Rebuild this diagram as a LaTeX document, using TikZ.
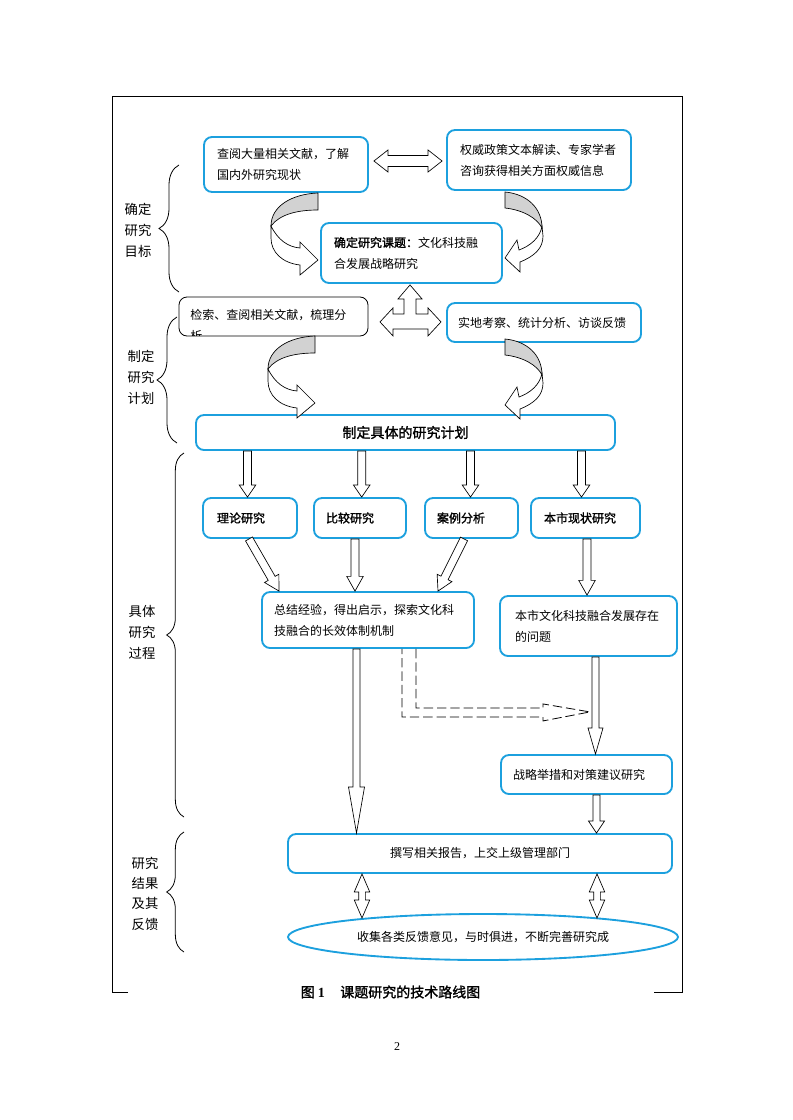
\documentclass[tikz,border=0pt]{standalone}
\usepackage{fontspec}
\setmainfont{Noto Sans CJK SC}[AutoFakeBold=1.5]
\newfontfamily\serifdig{Liberation Serif}
\usetikzlibrary{calc,shapes.geometric,decorations.pathreplacing}
\definecolor{cb}{RGB}{28,160,222}
\tikzset{
  cbox/.style={draw=cb, line width=1.4pt, rounded corners=6pt, fill=white, inner sep=0pt,
    font=\fontsize{9}{15.75}\selectfont, align=left},
  kbox/.style={draw=black, line width=0.6pt, rounded corners=6pt, fill=white, inner sep=0pt},
  barr/.style={draw=black, line width=0.5pt, fill=white, line join=miter},
  curvg/.style={draw=black, line width=0.5pt, fill=gray!35},
  curvw/.style={draw=black, line width=0.5pt, fill=white},
  lab/.style={font=\fontsize{10}{15.75}\selectfont, align=center, inner sep=0pt},
  brc/.style={decorate, line width=0.6pt},
  tx/.style={font=\fontsize{9}{9}\selectfont, inner sep=0pt},
}
% single block arrow: from #1 to #2, shaft half-width #3, head half-width #4, head length #5
\newcommand\barrow[5]{%
  \coordinate (tmpH) at ($(#2)!#5!(#1)$);
  \draw[barr] ($(#1)!#3!90:(#2)$) -- ($(tmpH)!#3!90:(#2)$) -- ($(tmpH)!#4!90:(#2)$) -- (#2)
    -- ($(tmpH)!#4!-90:(#2)$) -- ($(tmpH)!#3!-90:(#2)$) -- ($(#1)!#3!-90:(#2)$) -- cycle;}
% double block arrow
\newcommand\dbarrow[5]{%
  \coordinate (tmpA) at ($(#1)!#5!(#2)$);
  \coordinate (tmpB) at ($(#2)!#5!(#1)$);
  \draw[barr] (#1) -- ($(tmpA)!#4!90:(#2)$) -- ($(tmpA)!#3!90:(#2)$) -- ($(tmpB)!#3!90:(#2)$)
    -- ($(tmpB)!#4!90:(#2)$) -- (#2) -- ($(tmpB)!#4!-90:(#2)$) -- ($(tmpB)!#3!-90:(#2)$)
    -- ($(tmpA)!#3!-90:(#2)$) -- ($(tmpA)!#4!-90:(#2)$) -- cycle;}
\newcommand\curvL{%
  \draw[curvg] (318,193) .. controls (292,194) and (271,206) .. (271,226)
     .. controls (280,214) and (298,210) .. (318,210) -- cycle;
  \draw[curvw] (271,226) .. controls (278,240) and (288,247) .. (300,248) -- (300,242) -- (318,260)
     -- (300,275) -- (300,265) .. controls (282,263) and (271,252) .. (271,238) -- cycle;}
\newcommand\curvR{%
  \draw[curvg] (505,192) .. controls (527,194) and (542,208) .. (542,228)
     .. controls (537,218) and (523,210) .. (505,208) -- cycle;
  \draw[curvw] (542,226) .. controls (540,238) and (530,246) .. (519,250) -- (517,240) -- (505,258)
     -- (520,272) -- (520,262) .. controls (535,256) and (543,248) .. (543,236) -- cycle;}
\begin{document}
\begin{tikzpicture}[x=0.75pt,y=-0.75pt]
\useasboundingbox (0,0) rectangle (792,1120);
% frame
\draw[line width=0.6pt] (128,992) -- (112,992) -- (112,96) -- (682,96) -- (682,992) -- (654,992);
% left labels and braces
\node[lab] (l1) at (138,230.5) {确定\\研究\\目标};
\node[lab] (l2) at (141,377.5) {制定\\研究\\计划};
\node[lab] (l3) at (142,632.5) {具体\\研究\\过程};
\node[lab, font=\fontsize{10}{15.25}\selectfont] (l4) at (145,893.5) {研究\\结果\\及其\\反馈};
\draw[brc, decoration={brace, amplitude=15pt}] (179,292) -- (179,165);
\draw[brc, decoration={brace, amplitude=15pt}] (177,443) -- (177,317);
\draw[brc, decoration={brace, amplitude=13pt}] (184,817) -- (184,453);
\draw[brc, decoration={brace, amplitude=13pt}] (184,952) -- (184,832);
% boxes
\node[cbox, minimum width=123pt, minimum height=41.25pt, text width=103.5pt] (b1) at (286,164.5)
  {查阅大量相关文献，了解\\国内外研究现状};
\node[cbox, minimum width=138pt, minimum height=45pt, text width=118.5pt] (b2) at (539,160)
  {权威政策文本解读、专家学者\\咨询获得相关方面权威信息};
\node[cbox, minimum width=135.75pt, minimum height=45pt, text width=116.25pt] (b3) at (411.5,253)
  {{\bfseries 确定研究课题：}文化科技融\\合发展战略研究};
\node[kbox, minimum width=141.75pt, minimum height=29.25pt] (b4) at (273.5,316.5) {};
\begin{scope}
  \clip[rounded corners=6pt] ($(b4.south west)+(1,-1)$) rectangle ($(b4.north east)+(-1,1)$);
  \node[tx, anchor=base west] (b4t1) at (190,319.5) {检索、查阅相关文献，梳理分};
  \node[tx, anchor=base west] (b4t2) at (190,340.5) {析};
\end{scope}
\node[cbox, minimum width=145.5pt, minimum height=29.25pt, text width=129pt] (b5) at (544,322.5)
  {实地考察、统计分析、访谈反馈};
\node[cbox, minimum width=314.25pt, minimum height=26.25pt, align=center,
  font=\fontsize{10.5}{12}\selectfont\bfseries] (b6) at (405.5,432.5) {制定具体的研究计划};
\node[cbox, minimum width=70.5pt, minimum height=30pt, text width=49.5pt, font=\fontsize{9}{9}\selectfont\bfseries] (b7) at (250,518) {理论研究};
\node[cbox, minimum width=69pt, minimum height=30pt, text width=51pt, font=\fontsize{9}{9}\selectfont\bfseries] (b8) at (360,518) {比较研究};
\node[cbox, minimum width=69.75pt, minimum height=30pt, text width=51.75pt, font=\fontsize{9}{9}\selectfont\bfseries] (b9) at (471.5,518) {案例分析};
\node[cbox, minimum width=81.75pt, minimum height=30pt, text width=62.25pt, font=\fontsize{9}{9}\selectfont\bfseries] (b10) at (585.5,518) {本市现状研究};
\node[cbox, minimum width=159pt, minimum height=42pt, text width=141pt] (b11) at (368,620)
  {总结经验，得出启示，探索文化科\\技融合的长效体制机制};
\node[cbox, minimum width=132.75pt, minimum height=45pt, text width=110.25pt] (b12) at (588.5,626)
  {本市文化科技融合发展存在\\的问题};
\node[cbox, minimum width=128.25pt, minimum height=29.25pt, text width=110.25pt] (b13) at (586.5,774.5)
  {战略举措和对策建议研究};
\node[cbox, minimum width=288pt, minimum height=29.25pt, align=center] (b14) at (480,853.5)
  {撰写相关报告，上交上级管理部门};
\node[ellipse, draw=cb, line width=1.4pt, fill=white, minimum width=292.5pt, minimum height=34.5pt,
  inner sep=0pt, font=\fontsize{9}{9}\selectfont] (el) at (483,937)
  {收集各类反馈意见，与时俱进，不断完善研究成};
% caption & page number
\node[font=\fontsize{10.5}{12}\selectfont\bfseries, inner sep=0pt] (cap) at (390.5,992)
  {图 {\serifdig 1}\hspace{1.1em}课题研究的技术路线图};
\node[font=\serifdig\fontsize{9}{9}\selectfont, inner sep=0pt] (pg) at (397,1047) {2};
% horizontal double arrow between b1 and b2
\coordinate (h1s) at ($(b1.east)+(5,-3.5)$);
\coordinate (h1e) at ($(b2.west)+(-4,1)$);
\dbarrow{h1s}{h1e}{4.1pt}{8.25pt}{10.5pt}
% curved arrows
\curvR
\curvL
\begin{scope}[shift={(-3,143)}] \curvL \end{scope}
\begin{scope}[shift={(0,147)}] \curvR \end{scope}
% three-way arrow
\coordinate (tw) at ($(b3.south)+(-1.5,1)$);
\draw[barr, shift={(tw)}] (0,0) -- (12,14) -- (6,14) -- (6,29) -- (18,29) -- (18,23) -- (31,37)
  -- (18,51) -- (18,44) -- (-17,44) -- (-17,51) -- (-30,37) -- (-17,23) -- (-17,29) -- (-6,29)
  -- (-6,14) -- (-12,14) -- cycle;
% arrows from b6
\coordinate (a1e) at ($(b7.north)+(-2.5,0)$);  \coordinate (a1s) at (a1e |- b6.south);
\coordinate (a2e) at ($(b8.north)+(1.7,0)$);   \coordinate (a2s) at (a2e |- b6.south);
\coordinate (a3e) at ($(b9.north)+(-1,0)$);    \coordinate (a3s) at (a3e |- b6.south);
\coordinate (a4e) at ($(b10.north)+(-4,0)$);   \coordinate (a4s) at (a4e |- b6.south);
\barrow{a1s}{a1e}{3pt}{6.2pt}{9pt}
\barrow{a2s}{a2e}{3pt}{6.2pt}{9pt}
\barrow{a3s}{a3e}{3pt}{6.2pt}{9pt}
\barrow{a4s}{a4e}{3pt}{6.2pt}{9pt}
% arrows into b11 / b12
\coordinate (d1s) at ($(b7.south)+(-1,0)$);   \coordinate (d1e) at ($(b11.north)+(-89,0)$);
\coordinate (d2s) at ($(b8.south)+(-5,0)$);   \coordinate (d2e) at (d2s |- b11.north);
\coordinate (d3s) at ($(b9.south)+(-7.5,0)$); \coordinate (d3e) at ($(b11.north)+(70,0)$);
\coordinate (d4s) at ($(b10.south)+(1.5,0)$); \coordinate (d4e) at (d4s |- b12.north);
\barrow{d1s}{d1e}{3pt}{6.2pt}{11pt}
\barrow{d2s}{d2e}{3pt}{6.2pt}{11pt}
\barrow{d3s}{d3e}{3pt}{6.2pt}{11pt}
\barrow{d4s}{d4e}{3pt}{6.2pt}{11pt}
% long arrow b11 -> b14
\coordinate (l1s) at ($(b11.south)+(-11.5,0)$); \coordinate (l1e) at (l1s |- b14.north);
\barrow{l1s}{l1e}{2.6pt}{6pt}{34.5pt}
% b12 -> b13 -> b14
\coordinate (v2s) at ($(b12.south)+(7,0)$);  \coordinate (v2e) at (v2s |- b13.north);
\coordinate (v3s) at ($(b13.south)+(10,0)$); \coordinate (v3e) at (v3s |- b14.north);
\barrow{v2s}{v2e}{2.6pt}{5.6pt}{19.5pt}
\barrow{v3s}{v3e}{2.6pt}{6pt}{9pt}
% dashed elbow arrow
\draw[line width=0.6pt, dash pattern=on 7pt off 3pt, shift={(b11.south)}]
  (48,0) -- (48,59) -- (175,59) -- (175,55) -- (222,63) -- (175,72) -- (175,68) -- (34,68) -- (34,0);
% double vertical arrows b14 <-> ellipse
\coordinate (t1s) at ($(b14.south)+(-118,0)$); \coordinate (t1e) at ($(el.center)+(-121,-19)$);
\coordinate (t2s) at ($(b14.south)+(117,0)$);  \coordinate (t2e) at ($(el.center)+(114,-19)$);
\dbarrow{t1s}{t1e}{2.5pt}{5.8pt}{13.5pt}
\dbarrow{t2s}{t2e}{2.5pt}{5.8pt}{13.5pt}
\end{tikzpicture}
\end{document}
